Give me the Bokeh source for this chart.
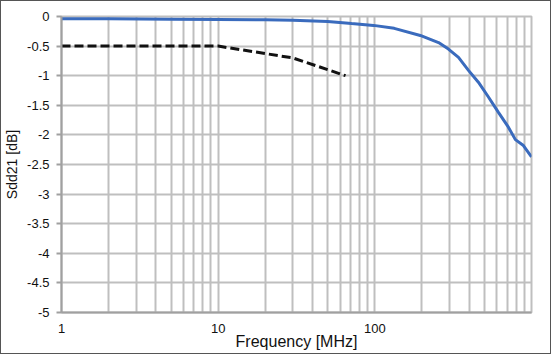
from bokeh.plotting import figure
from bokeh.models import FixedTicker, NumeralTickFormatter
from bokeh.embed import file_html
from bokeh.resources import INLINE

# Data
blue_freq = [1, 2, 5, 10, 20, 30, 50, 71, 98, 133, 195, 255, 295, 342, 396,
             458, 531, 615, 712, 789, 888, 1000]
blue_db = [-0.04, -0.04, -0.045, -0.05, -0.055, -0.065, -0.085, -0.12, -0.15,
           -0.2, -0.32, -0.44, -0.55, -0.69, -0.91, -1.11, -1.36, -1.62,
           -1.87, -2.08, -2.18, -2.37]

dash_freq = [1, 10, 30, 65]
dash_db = [-0.5, -0.5, -0.7, -1.0]

x_major = [1, 10, 100, 1000]
x_minor = [m * d for d in (1, 10, 100) for m in range(2, 10)]
x_labels = {1: "1", 10: "10", 100: "100", 1000: ""}
y_ticks = [-5 + 0.5 * i for i in range(11)]

FONT = "Liberation Sans"
GRID = "#bfbfbf"

p = figure(width=551, height=354, x_axis_type="log",
           x_range=(1, 1000), y_range=(-5, 0),
           output_backend="svg", toolbar_location=None,
           min_border_left=60, min_border_right=21,
           min_border_top=15, min_border_bottom=43,
           background_fill_color="white", border_fill_color="white",
           outline_line_color=GRID, outline_line_width=2)
p.styles = {"border": "1.5px solid #555555", "box-sizing": "border-box"}

p.xaxis.ticker = FixedTicker(ticks=x_major, minor_ticks=x_minor)
p.xaxis.major_label_overrides = x_labels
p.yaxis.ticker = FixedTicker(ticks=y_ticks)
p.yaxis.formatter = NumeralTickFormatter(format="0.[0]")

p.xgrid.grid_line_color = GRID
p.xgrid.grid_line_width = 2
p.xgrid.minor_grid_line_color = GRID
p.xgrid.minor_grid_line_width = 2
p.ygrid.grid_line_color = GRID
p.ygrid.grid_line_width = 2

for ax in (p.xaxis, p.yaxis):
    ax.axis_line_color = "#a0a0a0"
    ax.axis_line_width = 2
    ax.major_tick_line_color = "#a0a0a0"
    ax.major_tick_line_width = 2
    ax.minor_tick_out = 0
    ax.minor_tick_in = 0
    ax.major_tick_in = 0
    ax.major_label_text_font = FONT
    ax.major_label_text_color = "#111111"
    ax.axis_label_text_font = FONT
    ax.axis_label_text_font_style = "normal"
    ax.axis_label_text_color = "#111111"

p.xaxis.major_tick_out = 0
p.yaxis.major_tick_out = 5
p.xaxis.major_label_text_font_size = "13px"
p.yaxis.major_label_text_font_size = "13px"
p.xaxis.major_label_standoff = 11
p.yaxis.major_label_standoff = 7

p.xaxis.axis_label = "Frequency [MHz]"
p.xaxis.axis_label_text_font_size = "16px"
p.xaxis.axis_label_standoff = -3

p.yaxis.axis_label = "Sdd21 [dB]"
p.yaxis.axis_label_text_font_size = "14px"
p.yaxis.axis_label_standoff = 4

p.line(blue_freq, blue_db, line_color="#3a6bbd", line_width=3)
p.line(dash_freq, dash_db, line_color="#111111", line_width=3,
       line_dash="9 4")

open("out.html", "w").write(file_html(p, INLINE))
